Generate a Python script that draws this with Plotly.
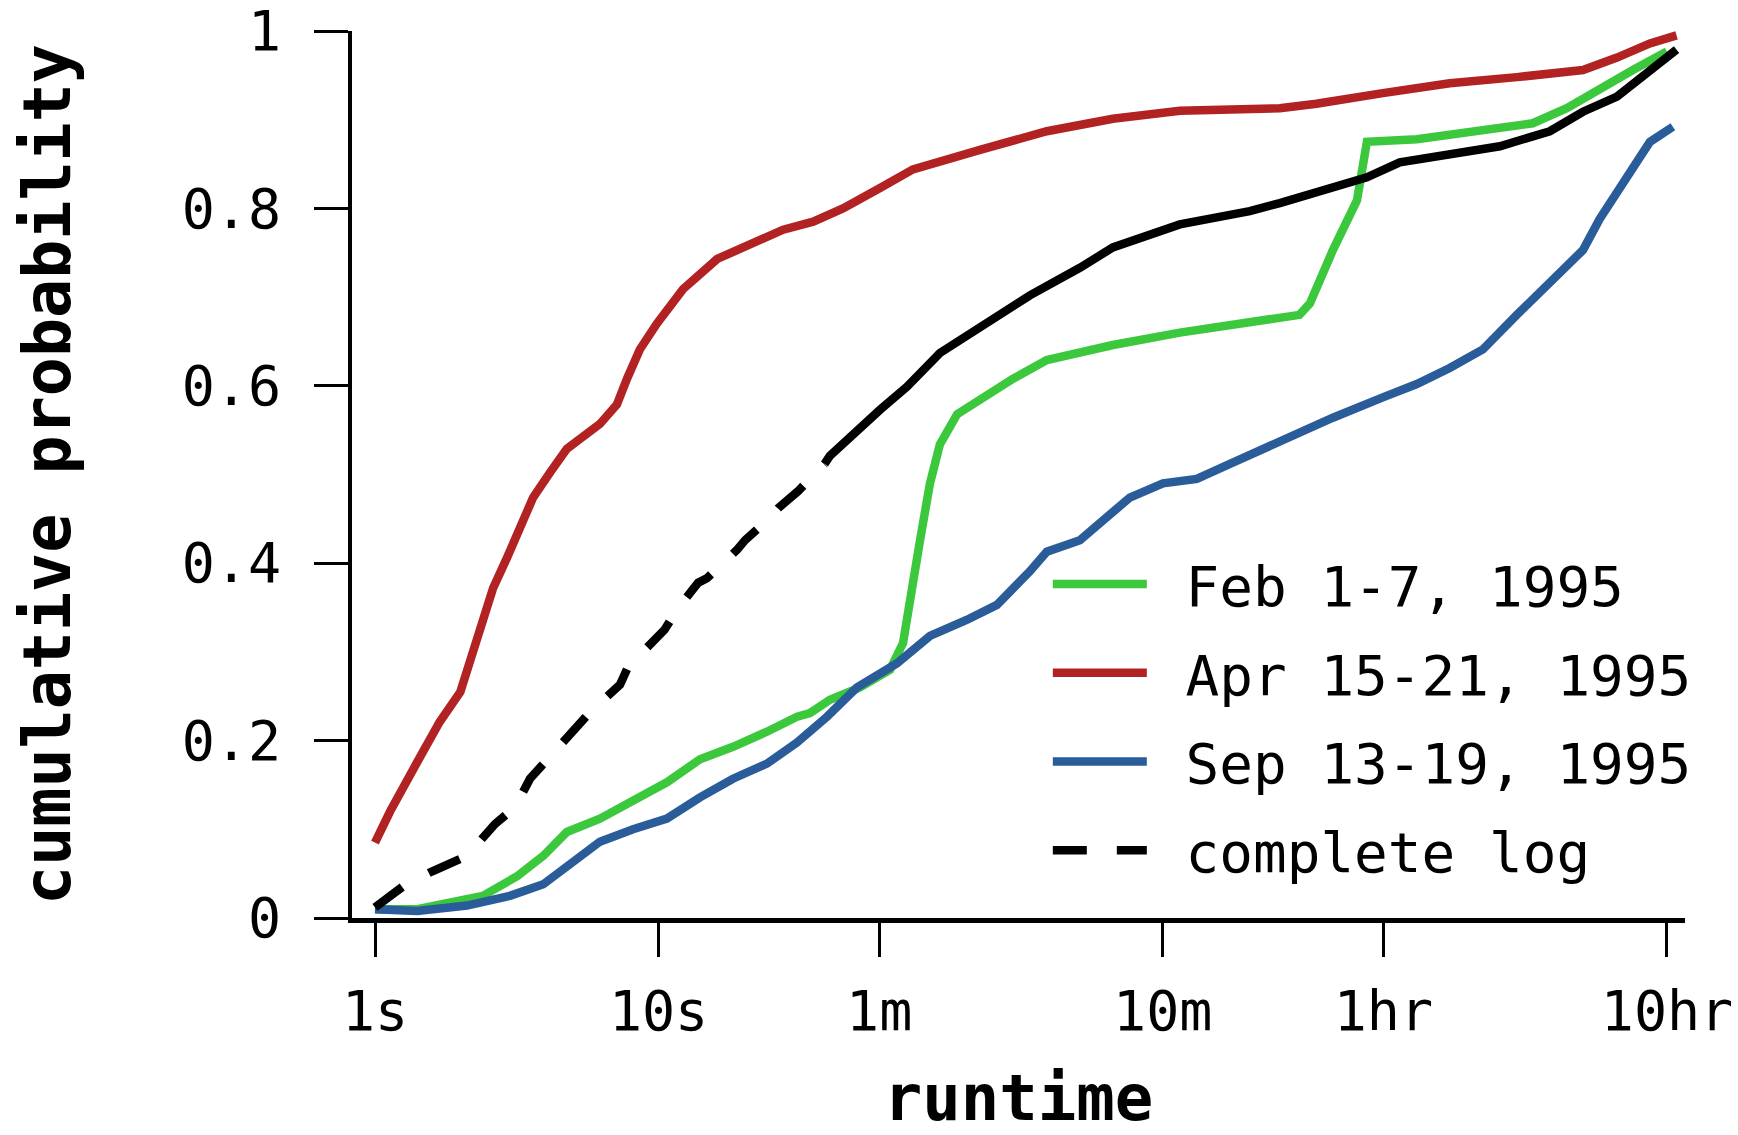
import plotly.graph_objects as go

# Runtime CDFs for three one-week samples and the full log.
# Runtimes are in seconds, probabilities are cumulative fractions.
tick_seconds = [1, 10, 60, 600, 3600, 36000]
tick_labels = ["1s", "10s", "1m", "10m", "1hr", "10hr"]
y_ticks = [0, 0.2, 0.4, 0.6, 0.8, 1]
y_tick_labels = ["0", "0.2", "0.4", "0.6", "0.8", "1"]

feb_runtime = [1.0, 1.41, 2.40, 3.17, 3.92, 4.75, 6.21, 8.13, 10.7, 14.0, 18.3, 24.1,
               30.8, 34.2, 40.2, 51.3, 65.5, 72.8, 76.9, 83.6, 90.6, 98.2, 113, 136,
               178, 234, 400, 689, 1216, 1820, 1982, 2388, 2904, 3148, 4721, 8072,
               12106, 15959, 20845, 27290, 35975]
feb_cdf = [0.010, 0.010, 0.025, 0.047, 0.070, 0.097, 0.112, 0.131, 0.153, 0.179, 0.193,
           0.210, 0.227, 0.231, 0.246, 0.260, 0.280, 0.310, 0.361, 0.426, 0.490, 0.534,
           0.568, 0.585, 0.608, 0.629, 0.646, 0.660, 0.672, 0.680, 0.693, 0.753, 0.809,
           0.875, 0.878, 0.887, 0.896, 0.913, 0.935, 0.956, 0.977]

apr_runtime = [1.0, 1.13, 1.41, 1.69, 2.0, 2.22, 2.40, 2.61, 2.92, 3.17, 3.61, 4.14,
               4.75, 6.21, 7.13, 7.74, 8.59, 9.86, 12.2, 16.1, 21.0, 27.5, 35.1, 44.7,
               60.4, 78.9, 136, 234, 400, 689, 1552, 2089, 3581, 6166, 10641, 18197,
               23988, 31333, 38905]
apr_cdf = [0.085, 0.120, 0.176, 0.221, 0.255, 0.300, 0.333, 0.372, 0.406, 0.434, 0.474,
           0.502, 0.529, 0.557, 0.579, 0.608, 0.641, 0.670, 0.709, 0.743, 0.759, 0.776,
           0.785, 0.800, 0.823, 0.844, 0.866, 0.887, 0.901, 0.910, 0.913, 0.918, 0.930,
           0.941, 0.948, 0.956, 0.970, 0.986, 0.995]

sep_runtime = [1.0, 1.41, 2.11, 2.99, 3.92, 4.75, 6.21, 8.13, 10.7, 14.0, 18.3, 24.1,
               30.8, 39.3, 50.1, 69.2, 90.6, 122, 156, 204, 234, 306, 381, 459, 601,
               791, 1035, 1552, 2388, 3581, 4721, 6166, 8072, 10641, 13900, 18197,
               20845, 23878, 27290, 31333, 37757]
sep_cdf = [0.010, 0.008, 0.014, 0.025, 0.038, 0.059, 0.086, 0.100, 0.112, 0.136, 0.157,
           0.174, 0.198, 0.227, 0.260, 0.287, 0.318, 0.336, 0.353, 0.391, 0.413, 0.426,
           0.452, 0.474, 0.490, 0.495, 0.512, 0.538, 0.564, 0.587, 0.602, 0.620, 0.641,
           0.680, 0.715, 0.753, 0.788, 0.818, 0.844, 0.875, 0.892]

log_runtime = [1.0, 1.26, 1.60, 2.11, 2.65, 3.12, 3.52, 5.15, 5.73, 7.31, 7.80, 10.5,
               11.7, 13.8, 14.8, 18.9, 20.2, 24.7, 26.4, 31.0, 38.5, 40.2, 60.4, 75.2,
               98.2, 136, 204, 306, 400, 689, 1216, 1552, 2388, 3148, 4111, 6166, 9268,
               13900, 18197, 23988, 31333, 38905]
log_cdf = [0.012, 0.036, 0.053, 0.070, 0.106, 0.125, 0.157, 0.215, 0.232, 0.263, 0.283,
           0.325, 0.349, 0.378, 0.383, 0.415, 0.426, 0.451, 0.462, 0.481, 0.512, 0.521,
           0.573, 0.599, 0.637, 0.667, 0.702, 0.733, 0.756, 0.782, 0.797, 0.806, 0.823,
           0.835, 0.852, 0.861, 0.870, 0.887, 0.909, 0.926, 0.956, 0.979]

GREEN = "#3cc83c"
RED = "#b22222"
BLUE = "#2a5c9a"
BLACK = "#000000"
FONT = "DejaVu Sans Mono"
LINE_W = 8.5
GAP = "\u00a0"  # spacing between legend sample and its label

# The sparse early part of the full-log curve shows its dash pattern;
# the dense later part renders as a continuous stroke.
DASH_UNTIL_S = 38.5
dash_idx = [i for i, t in enumerate(log_runtime) if t <= DASH_UNTIL_S]
solid_idx = [i for i, t in enumerate(log_runtime) if t >= DASH_UNTIL_S]

fig = go.Figure()
fig.add_trace(go.Scatter(x=feb_runtime, y=feb_cdf, mode="lines", name=GAP + "Feb 1-7, 1995",
                         legendgroup="feb", line=dict(color=GREEN, width=LINE_W)))
fig.add_trace(go.Scatter(x=apr_runtime, y=apr_cdf, mode="lines", name=GAP + "Apr 15-21, 1995",
                         legendgroup="apr", line=dict(color=RED, width=LINE_W)))
fig.add_trace(go.Scatter(x=sep_runtime, y=sep_cdf, mode="lines", name=GAP + "Sep 13-19, 1995",
                         legendgroup="sep", line=dict(color=BLUE, width=LINE_W)))
fig.add_trace(go.Scatter(x=[log_runtime[i] for i in dash_idx], y=[log_cdf[i] for i in dash_idx],
                         mode="lines", name=GAP + "complete log", legendgroup="log",
                         line=dict(color=BLACK, width=LINE_W, dash="34px,30px")))
fig.add_trace(go.Scatter(x=[log_runtime[i] for i in solid_idx], y=[log_cdf[i] for i in solid_idx],
                         mode="lines", name="complete log", legendgroup="log", showlegend=False,
                         line=dict(color=BLACK, width=LINE_W)))

fig.update_layout(
    width=1738, height=1135,
    margin=dict(l=352, r=53, t=31, b=217),
    paper_bgcolor="white", plot_bgcolor="white",
    font=dict(family=FONT, color="black", size=55),
    showlegend=True,
    legend=dict(x=0.522, y=0.425, xanchor="left", yanchor="top",
                bgcolor="rgba(0,0,0,0)", font=dict(size=56, family=FONT),
                traceorder="grouped", tracegroupgap=13, itemwidth=94),
)
fig.update_xaxes(
    type="log", range=[-0.0811, 4.6198], automargin=False,
    tickvals=tick_seconds, ticktext=tick_labels,
    ticks="outside", ticklen=34, tickwidth=3, tickcolor="black",
    ticklabelstandoff=7, ticklabeloverflow="allow",
    showline=True, linewidth=5, linecolor="black", mirror=False,
    showgrid=False, zeroline=False,
    tickfont=dict(size=55, family=FONT),
    title=dict(text="<b>runtime</b>", font=dict(size=64, family=FONT), standoff=39),
)
fig.update_yaxes(
    range=[0, 1], automargin=False,
    tickvals=y_ticks, ticktext=y_tick_labels,
    ticks="outside", ticklen=34, tickwidth=3, tickcolor="black",
    ticklabelstandoff=22, ticklabeloverflow="allow",
    showline=True, linewidth=4, linecolor="black",
    showgrid=False, zeroline=False,
    tickfont=dict(size=55, family=FONT),
    title=dict(text="<b>cumulative probability</b>", font=dict(size=65, family=FONT), standoff=91),
)

fig.write_html("out.html")
